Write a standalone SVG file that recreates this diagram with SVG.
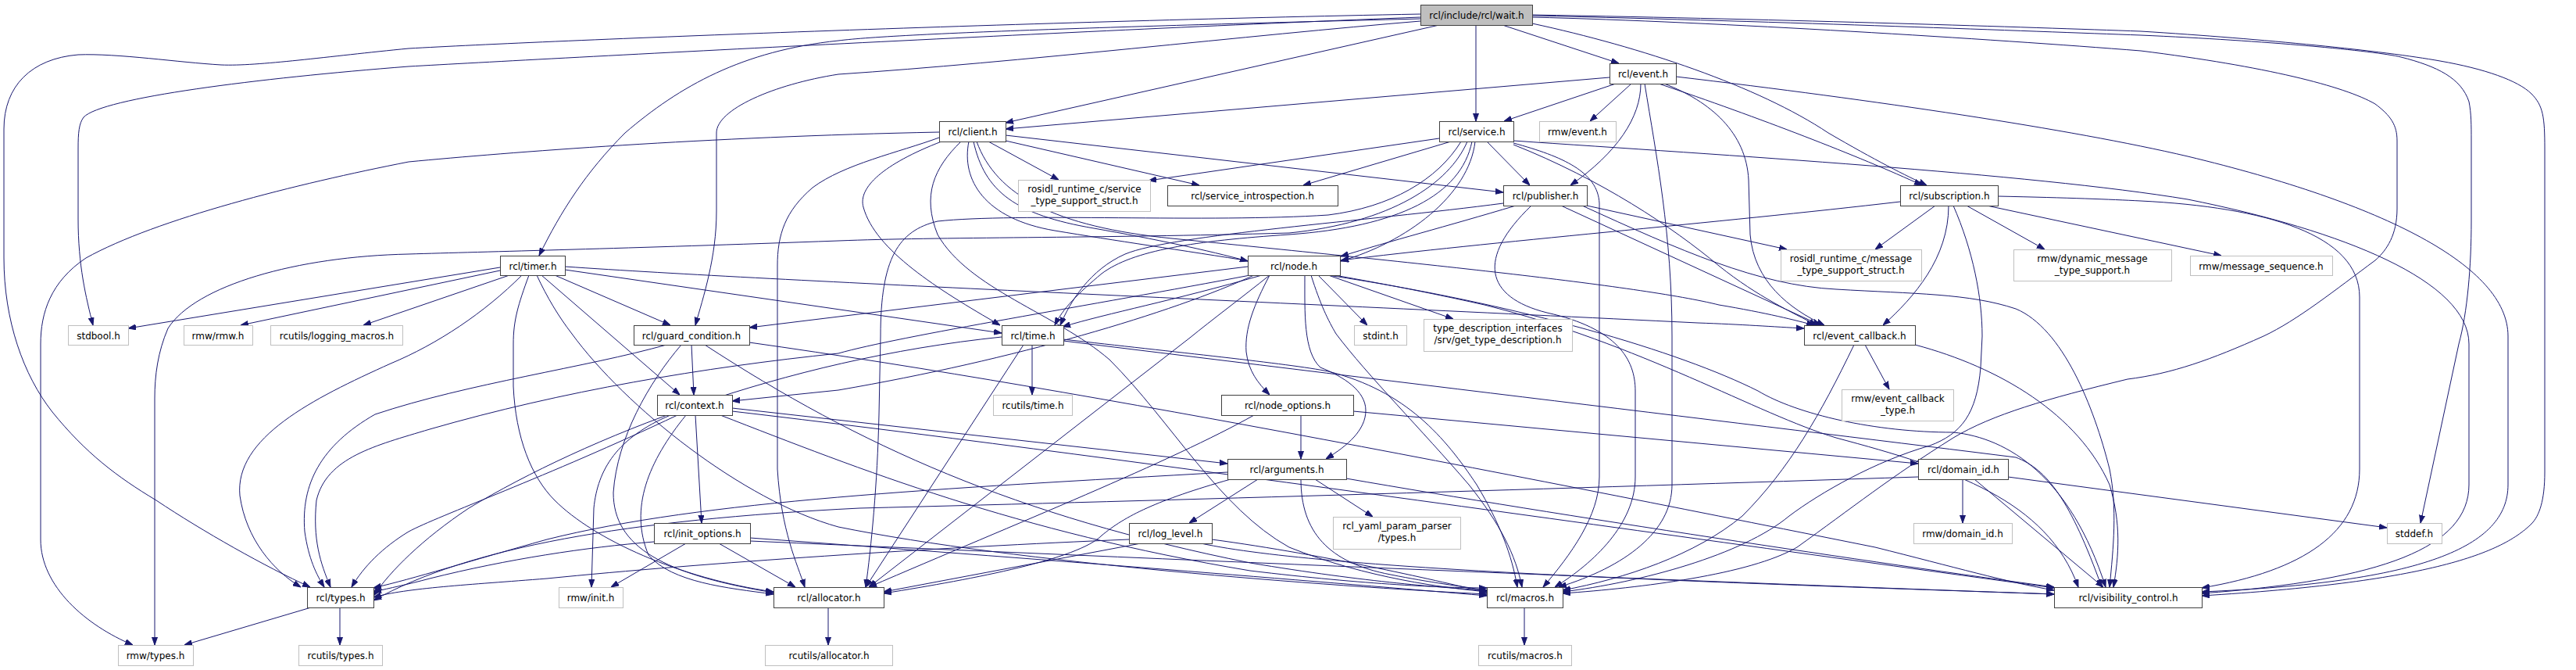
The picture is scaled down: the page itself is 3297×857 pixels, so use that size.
<svg xmlns="http://www.w3.org/2000/svg" width="3297" height="857" viewBox="0 0 3297 857">
<style>
.n rect{fill:#fff;stroke:#404040;stroke-width:1}
.x rect{fill:#fff;stroke:#bfbfbf;stroke-width:1}
.r rect{fill:#bfbfbf;stroke:#404040;stroke-width:1}
text{font-family:"DejaVu Sans","Liberation Sans",sans-serif;font-size:12px;text-anchor:middle;fill:#000}
#edges path{fill:none;stroke:#191970;stroke-width:1;marker-end:url(#a)}
</style>
<defs>
<marker id="a" markerWidth="10" markerHeight="8" refX="10" refY="4" orient="auto" markerUnits="userSpaceOnUse"><path d="M0,0.5 L10,4 L0,7.5 z" fill="#191970" stroke="#191970" stroke-width="1"/></marker>
</defs>
<rect width="3297" height="857" fill="#fff"/>
<g id="edges">
<path d="M1818,22 C1400,38 700,75 523,85 C330,100 130,125 107,150 C101,158 100,170 100,190 L100,280 C100,340 110,380 119,416"/>
<path d="M1818,18 C1300,28 700,52 523,62 C420,72 330,85 283,83 C230,80 150,68 100,70 C40,75 5,110 5,165 L5,330 C5,410 30,480 67,527 C110,580 150,610 200,640 C260,680 340,725 397,751"/>
<path d="M1818,24 C1500,32 1150,42 1073,52 C950,65 870,110 800,170 C750,220 718,270 690,327"/>
<path d="M1818,27 C1600,45 1300,80 1073,95 C990,108 917,140 917,170 L917,270 C917,330 900,380 890,416"/>
<path d="M1842,32 L1287,157"/>
<path d="M1889,32 L1889,155"/>
<path d="M1923,32 L2072,81"/>
<path d="M1961,30 C2100,60 2250,110 2340,170 C2400,205 2440,225 2466,237"/>
<path d="M1961,22 C2200,28 2550,50 2740,65 C2900,85 3000,110 3040,133 C3060,148 3068,160 3068,180 L3068,267 C3068,300 3055,320 3040,333 C2990,370 2940,410 2897,430 C2830,460 2780,478 2723,485 C2620,510 2550,530 2500,560 C2420,610 2370,650 2300,700 C2240,735 2100,752 2000,759"/>
<path d="M1961,20 C2300,28 2600,40 2740,45 C2900,52 3040,65 3073,73 C3120,85 3150,100 3160,130 C3163,145 3163,160 3163,180 L3163,283 C3163,340 3158,400 3147,440 L3098,669"/>
<path d="M1961,19 C2300,25 2600,35 2740,40 C2900,50 3050,65 3123,78 C3180,88 3223,103 3240,120 C3255,135 3257,150 3257,190 L3257,604 C3257,640 3250,660 3240,670 C3200,710 3100,745 2818,762"/>
<path d="M2060,99 L1287,165"/>
<path d="M2068,107 L1925,155"/>
<path d="M2088,107 L2035,155"/>
<path d="M2100,107 C2100,150 2070,195 2010,237"/>
<path d="M2105,107 C2120,200 2140,300 2140,430 L2140,620 C2140,680 2080,725 1995,751"/>
<path d="M2123,107 C2250,150 2380,200 2460,237"/>
<path d="M2130,107 C2190,130 2235,170 2238,230 L2240,300 C2245,360 2290,395 2335,416"/>
<path d="M2145,98 C2400,128 2650,165 2800,200 C3050,260 3210,340 3210,430 L3210,620 C3210,700 3100,745 2818,757"/>
<path d="M1265,181 L1355,230"/>
<path d="M1287,180 L1535,237"/>
<path d="M1287,173 L1924,246"/>
<path d="M1246,181 C1260,245 1300,275 1400,292 C1480,306 1545,320 1597,334"/>
<path d="M1205,181 C1130,210 1098,240 1105,265 C1120,320 1200,370 1280,416"/>
<path d="M1202,176 C1150,195 1080,210 1040,240 C1005,270 995,300 995,340 L995,600 C1000,680 1020,720 1030,751"/>
<path d="M1230,181 C1195,215 1180,250 1200,300 C1240,370 1350,400 1420,460 C1500,540 1560,650 1650,700 C1750,740 1850,752 1903,757"/>
<path d="M1250,181 C1275,250 1350,290 1500,305 C1800,335 2100,365 2200,390 C2260,400 2300,410 2322,416"/>
<path d="M1240,181 C1230,230 1260,280 1350,295 C1500,320 1700,345 1900,390 C2100,440 2250,530 2350,560 C2500,600 2620,640 2660,751"/>
<path d="M1202,169 C900,175 650,195 523,207 C380,235 200,280 110,330 C65,360 52,400 52,440 L52,690 C52,750 110,800 170,825"/>
<path d="M1842,177 L1470,231"/>
<path d="M1857,181 L1668,237"/>
<path d="M1878,181 C1855,235 1780,285 1650,298 C1400,305 1200,303 1073,308 C800,318 620,322 523,325 C380,328 250,365 215,420 C202,450 198,480 198,510 L198,825"/>
<path d="M1884,181 C1870,250 1790,290 1650,300 C1530,308 1450,320 1410,350 C1380,375 1360,395 1350,416"/>
<path d="M1870,181 C1840,230 1780,265 1700,275 C1550,285 1300,272 1200,283 C1150,295 1127,330 1127,430 L1125,530 C1123,620 1115,700 1108,751"/>
<path d="M1888,181 C1880,250 1800,310 1716,334"/>
<path d="M1903,181 L1958,237"/>
<path d="M1937,180 C2200,198 2600,222 2800,255 C3000,295 3160,360 3160,440 L3160,620 C3160,700 3050,742 2818,759"/>
<path d="M1937,183 C2000,200 2045,220 2047,260 L2047,610 C2047,660 2010,710 1975,751"/>
<path d="M1937,185 C2050,230 2140,290 2200,340 C2250,380 2295,400 2325,416"/>
<path d="M2031,263 L2287,319"/>
<path d="M1940,263 C1850,290 1780,308 1716,328"/>
<path d="M1924,260 C1750,283 1500,300 1440,325 C1395,345 1370,385 1357,416"/>
<path d="M1960,263 C1890,330 1900,380 1980,400 C2070,420 2093,460 2093,500 L2093,610 C2093,670 2040,720 1990,751"/>
<path d="M1998,263 L2330,416"/>
<path d="M2025,263 C2150,320 2250,365 2350,370 C2450,376 2520,375 2580,395 C2640,420 2680,520 2700,600 C2710,650 2705,700 2700,751"/>
<path d="M2432,258 C2200,285 1900,310 1716,333"/>
<path d="M2477,263 L2400,319"/>
<path d="M2494,263 C2494,330 2450,380 2410,416"/>
<path d="M2500,263 C2525,320 2537,380 2537,430 L2535,470 C2530,530 2510,555 2470,570 C2400,590 2330,630 2290,660 C2230,710 2100,745 2000,757"/>
<path d="M2517,263 L2617,319"/>
<path d="M2543,263 L2843,327"/>
<path d="M2557,251 C2650,253 2700,255 2740,257 C2900,265 3020,300 3020,380 L3020,600 C3020,680 2950,730 2818,752"/>
<path d="M640,342 L164,420"/>
<path d="M640,346 L308,416"/>
<path d="M652,352 L465,416"/>
<path d="M710,352 L858,416"/>
<path d="M693,352 L870,505"/>
<path d="M723,345 L1282,426"/>
<path d="M723,341 C1000,360 1600,385 2173,413 C2230,415 2270,418 2309,420"/>
<path d="M668,352 C620,400 560,440 500,465 C400,510 300,560 307,634 C315,690 350,730 385,751"/>
<path d="M677,352 C663,390 657,410 657,440 L657,494 C660,560 680,610 710,640 C760,690 870,740 990,757"/>
<path d="M687,352 C700,380 715,405 732,427 C800,520 950,640 1073,674 C1300,720 1700,750 1903,760"/>
<path d="M885,441 L888,505"/>
<path d="M853,441 C750,470 600,490 480,530 C410,570 385,620 390,680 C395,715 405,735 415,751"/>
<path d="M872,441 C830,490 790,560 785,630 C785,700 850,735 990,758"/>
<path d="M902,441 C1100,570 1300,660 1600,720 C1750,745 1850,752 1903,755"/>
<path d="M959,438 C1400,500 2000,620 2400,700 C2500,725 2570,745 2629,755"/>
<path d="M858,531 C790,560 765,600 760,650 L757,751"/>
<path d="M878,531 C830,590 805,650 830,710 C860,745 930,752 990,760"/>
<path d="M937,522 L1571,593"/>
<path d="M890,531 L898,669"/>
<path d="M922,531 C1100,600 1300,680 1600,730 C1750,748 1850,752 1903,752"/>
<path d="M867,531 C700,610 560,660 523,680 C490,700 465,725 450,751"/>
<path d="M937,526 C1400,580 2100,680 2629,752"/>
<path d="M878,695 L782,751"/>
<path d="M920,695 L1018,751"/>
<path d="M960,688 C1400,720 1700,745 1903,762"/>
<path d="M837,693 C750,700 650,715 550,740 C520,748 500,752 478,757"/>
<path d="M960,692 C1600,720 2200,745 2629,760"/>
<path d="M1321,441 L1321,505"/>
<path d="M1310,441 L1108,751"/>
<path d="M1361,434 C1500,450 1650,465 1700,475 C1800,500 1850,560 1890,620 C1920,670 1935,710 1942,751"/>
<path d="M1282,431 C1000,460 750,560 600,650 C540,690 500,730 478,762"/>
<path d="M1361,436 C1800,490 2300,550 2580,585 C2620,600 2650,640 2690,751"/>
<path d="M1687,352 L1750,416"/>
<path d="M1700,352 L1860,408"/>
<path d="M1625,352 C1605,390 1593,420 1595,450 C1598,475 1610,490 1625,505"/>
<path d="M1597,341 L959,419"/>
<path d="M1605,352 C1500,400 1300,460 1073,499 L937,513"/>
<path d="M1615,352 C1500,385 1420,400 1360,418"/>
<path d="M1625,352 C1590,380 1550,410 1523,432 L1112,751"/>
<path d="M1670,352 C1670,400 1668,450 1690,470 C1720,482 1748,500 1748,525 C1748,550 1725,570 1697,587"/>
<path d="M1678,352 C1690,390 1700,410 1710,427 C1750,480 1820,550 1880,620 C1920,670 1940,710 1948,751"/>
<path d="M1600,352 C1400,390 1150,430 1073,452 C900,470 720,500 550,549 C480,570 418,585 405,640 C400,690 410,720 423,751"/>
<path d="M1700,352 C1950,390 2150,450 2250,500 C2300,530 2400,553 2500,553 C2570,560 2650,610 2695,751"/>
<path d="M1665,531 L1665,587"/>
<path d="M1605,531 C1500,590 1300,670 1112,751"/>
<path d="M1732,526 L2455,593"/>
<path d="M1610,613 L1522,669"/>
<path d="M1683,613 L1757,661"/>
<path d="M1665,613 C1665,680 1700,720 1780,735 C1830,745 1870,750 1903,755"/>
<path d="M1575,613 C1480,640 1440,660 1410,685 C1380,715 1250,740 1131,759"/>
<path d="M1571,604 C1200,625 900,640 700,690 C600,718 530,740 478,752"/>
<path d="M1723,612 C2000,660 2400,720 2629,751"/>
<path d="M1460,695 L1131,757"/>
<path d="M1551,690 C1700,710 1850,745 1903,758"/>
<path d="M1445,690 C1200,700 900,720 700,740 C600,748 520,752 478,764"/>
<path d="M1537,695 C1700,730 2200,745 2629,760"/>
<path d="M2512,613 L2512,669"/>
<path d="M2570,610 L3055,675"/>
<path d="M2527,613 L2692,751"/>
<path d="M2455,610 C2000,625 1500,640 1100,650 C800,665 600,700 478,768"/>
<path d="M2387,441 L2418,498"/>
<path d="M2373,441 C2330,530 2290,600 2230,660 C2170,710 2080,740 2000,755"/>
<path d="M2451,441 C2560,470 2660,530 2700,620 C2715,670 2712,710 2705,751"/>
<path d="M1060,777 L1060,825"/>
<path d="M1951,777 L1951,825"/>
<path d="M398,777 L236,825"/>
<path d="M435,777 L435,825"/>
</g>
<g id="wait" class="r"><rect x="1818.5" y="6.5" width="143" height="26"/><text x="1890" y="24">rcl/include/rcl/wait.h</text></g>
<g id="event" class="n"><rect x="2060.5" y="81.5" width="85" height="26"/><text x="2103" y="99">rcl/event.h</text></g>
<g id="service" class="n"><rect x="1842.5" y="155.5" width="95" height="26"/><text x="1890" y="173">rcl/service.h</text></g>
<g id="rmw_event" class="x"><rect x="1970.5" y="155.5" width="98" height="26"/><text x="2019" y="173">rmw/event.h</text></g>
<g id="publisher" class="n"><rect x="1924.5" y="237.5" width="107" height="26"/><text x="1978" y="255">rcl/publisher.h</text></g>
<g id="node" class="n"><rect x="1597.5" y="327.5" width="118" height="25"/><text x="1656" y="345">rcl/node.h</text></g>
<g id="stdint" class="x"><rect x="1733.5" y="416.5" width="67" height="25"/><text x="1767" y="434">stdint.h</text></g>
<g id="type_desc" class="x"><rect x="1822.5" y="408.5" width="190" height="41"/><text x="1917" y="424">type_description_interfaces</text><text x="1917" y="439">/srv/get_type_description.h</text></g>
<g id="client" class="n"><rect x="1202.5" y="155.5" width="85" height="26"/><text x="1245" y="173">rcl/client.h</text></g>
<g id="rosidl_svc" class="x"><rect x="1303.5" y="230.5" width="169" height="40"/><text x="1388" y="246">rosidl_runtime_c/service</text><text x="1388" y="261">_type_support_struct.h</text></g>
<g id="svc_intro" class="n"><rect x="1494.5" y="237.5" width="218" height="26"/><text x="1603" y="255">rcl/service_introspection.h</text></g>
<g id="time" class="n"><rect x="1282.5" y="416.5" width="79" height="25"/><text x="1322" y="434">rcl/time.h</text></g>
<g id="rcutils_time" class="x"><rect x="1271.5" y="505.5" width="101" height="26"/><text x="1322" y="523">rcutils/time.h</text></g>
<g id="node_options" class="n"><rect x="1563.5" y="505.5" width="169" height="26"/><text x="1648" y="523">rcl/node_options.h</text></g>
<g id="arguments" class="n"><rect x="1571.5" y="587.5" width="152" height="26"/><text x="1647" y="605">rcl/arguments.h</text></g>
<g id="log_level" class="n"><rect x="1445.5" y="669.5" width="106" height="26"/><text x="1498" y="687">rcl/log_level.h</text></g>
<g id="yaml" class="x"><rect x="1706.5" y="661.5" width="163" height="41"/><text x="1788" y="677">rcl_yaml_param_parser</text><text x="1788" y="692">/types.h</text></g>
<g id="macros" class="n"><rect x="1903.5" y="751.5" width="97" height="26"/><text x="1952" y="769">rcl/macros.h</text></g>
<g id="rcutils_macros" class="x"><rect x="1892.5" y="825.5" width="119" height="26"/><text x="1952" y="843">rcutils/macros.h</text></g>
<g id="allocator" class="n"><rect x="990.5" y="751.5" width="141" height="26"/><text x="1061" y="769">rcl/allocator.h</text></g>
<g id="rcutils_alloc" class="x"><rect x="979.5" y="825.5" width="163" height="26"/><text x="1061" y="843">rcutils/allocator.h</text></g>
<g id="rmw_init" class="x"><rect x="715.5" y="751.5" width="82" height="26"/><text x="756" y="769">rmw/init.h</text></g>
<g id="init_options" class="n"><rect x="837.5" y="669.5" width="123" height="26"/><text x="899" y="687">rcl/init_options.h</text></g>
<g id="context" class="n"><rect x="841.5" y="505.5" width="96" height="26"/><text x="889" y="523">rcl/context.h</text></g>
<g id="guard" class="n"><rect x="811.5" y="416.5" width="148" height="25"/><text x="885" y="434">rcl/guard_condition.h</text></g>
<g id="timer" class="n"><rect x="640.5" y="327.5" width="83" height="25"/><text x="682" y="345">rcl/timer.h</text></g>
<g id="stdbool" class="x"><rect x="87.5" y="416.5" width="77" height="25"/><text x="126" y="434">stdbool.h</text></g>
<g id="rmw_rmw" class="x"><rect x="235.5" y="416.5" width="88" height="25"/><text x="279" y="434">rmw/rmw.h</text></g>
<g id="logging" class="x"><rect x="346.5" y="416.5" width="169" height="25"/><text x="431" y="434">rcutils/logging_macros.h</text></g>
<g id="types" class="n"><rect x="393.5" y="751.5" width="85" height="26"/><text x="436" y="769">rcl/types.h</text></g>
<g id="rmw_types" class="x"><rect x="151.5" y="825.5" width="96" height="26"/><text x="199" y="843">rmw/types.h</text></g>
<g id="rcutils_types" class="x"><rect x="382.5" y="825.5" width="107" height="26"/><text x="436" y="843">rcutils/types.h</text></g>
<g id="subscription" class="n"><rect x="2432.5" y="237.5" width="125" height="26"/><text x="2495" y="255">rcl/subscription.h</text></g>
<g id="rosidl_msg" class="x"><rect x="2279.5" y="319.5" width="180" height="40"/><text x="2369" y="335">rosidl_runtime_c/message</text><text x="2369" y="350">_type_support_struct.h</text></g>
<g id="dyn_msg" class="x"><rect x="2577.5" y="319.5" width="202" height="40"/><text x="2678" y="335">rmw/dynamic_message</text><text x="2678" y="350">_type_support.h</text></g>
<g id="msg_seq" class="x"><rect x="2803.5" y="327.5" width="182" height="25"/><text x="2894" y="345">rmw/message_sequence.h</text></g>
<g id="event_callback" class="n"><rect x="2309.5" y="416.5" width="142" height="25"/><text x="2380" y="434">rcl/event_callback.h</text></g>
<g id="ecb_type" class="x"><rect x="2357.5" y="498.5" width="143" height="40"/><text x="2429" y="514">rmw/event_callback</text><text x="2429" y="529">_type.h</text></g>
<g id="domain_id" class="n"><rect x="2455.5" y="587.5" width="115" height="26"/><text x="2513" y="605">rcl/domain_id.h</text></g>
<g id="rmw_domain" class="x"><rect x="2449.5" y="669.5" width="126" height="26"/><text x="2512" y="687">rmw/domain_id.h</text></g>
<g id="vis" class="n"><rect x="2629.5" y="751.5" width="189" height="26"/><text x="2724" y="769">rcl/visibility_control.h</text></g>
<g id="stddef" class="x"><rect x="3055.5" y="669.5" width="70" height="26"/><text x="3090" y="687">stddef.h</text></g>
</svg>
